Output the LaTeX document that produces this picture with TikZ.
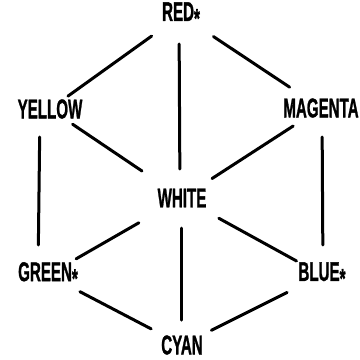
\documentclass[tikz,border=0pt]{standalone}
\usepackage{fontspec}
\setmainfont{Liberation Sans}[BoldFeatures={FakeBold=1.5}]
\usepackage{graphicx}
\usetikzlibrary{calc}
\newcommand\lbl[1]{\scalebox{0.56}[1]{\bfseries #1}}
\newcommand\starmark{\raisebox{-0.25em}{*}}
\tikzset{
  colname/.style={font=\fontsize{27}{27}\selectfont, inner sep=0pt, anchor=center},
  link/.style={line width=3pt, line cap=round}
}
\begin{document}
\begin{tikzpicture}[x=1pt,y=-1pt]
\useasboundingbox (0,0) rectangle (360,360);
\fill[white] (0,0) rectangle (360,360);
\node[colname] (red) at (181,15) {\lbl{RED\starmark}};
\node[colname] (yellow) at (50,109) {\lbl{YELLOW}};
\node[colname] (magenta) at (321,108) {\lbl{MAGENTA}};
\node[colname] (white) at (182,198) {\lbl{WHITE}};
\node[colname] (green) at (48,275) {\lbl{GREEN\starmark}};
\node[colname] (blue) at (322,275) {\lbl{BLUE\starmark}};
\node[colname] (cyan) at (182,345) {\lbl{CYAN}};
\draw[link] ($(red)!0.224!(yellow)$) -- ($(red)!0.863!(yellow)$);
\draw[link] ($(red)!0.232!(magenta)$) -- ($(red)!0.776!(magenta)$);
\draw[link] ($(red)!0.158!(white) + (-2,0)$) -- ($(red)!0.842!(white) + (-2,0)$);
\draw[link] ($(yellow)!0.171!(white)$) -- ($(yellow)!0.697!(white)$);
\draw[link] ($(magenta)!0.2!(white)$) -- ($(magenta)!0.784!(white)$);
\draw[link] ($(yellow)!0.169!(green) + (-10,0)$) -- ($(yellow)!0.819!(green) + (-10,0)$);
\draw[link] ($(magenta)!0.174!(blue) + (1,0)$) -- ($(magenta)!0.82!(blue) + (1,0)$);
\draw[link] ($(white)!0.322!(green)$) -- ($(white)!0.79!(green)$);
\draw[link] ($(white)!0.263!(blue)$) -- ($(white)!0.818!(blue)$);
\draw[link] ($(white)!0.205!(cyan)$) -- ($(white)!0.83!(cyan)$);
\draw[link] ($(green)!0.238!(cyan)$) -- ($(green)!0.77!(cyan)$);
\draw[link] ($(blue)!0.249!(cyan)$) -- ($(blue)!0.79!(cyan)$);
\end{tikzpicture}
\end{document}
